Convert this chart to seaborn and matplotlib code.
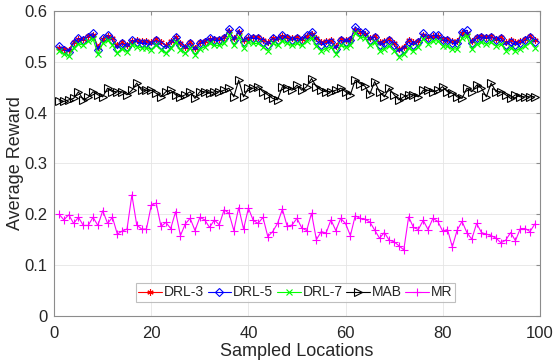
import numpy as np
import matplotlib
matplotlib.use("Agg")
import matplotlib.pyplot as plt
import seaborn as sns

locations = list(range(1, 100))

drl5 = [0.531, 0.523, 0.520, 0.536, 0.546, 0.542, 0.549, 0.556, 0.523, 0.546,
        0.552, 0.542, 0.526, 0.536, 0.529, 0.542, 0.539, 0.536, 0.536, 0.533,
        0.542, 0.533, 0.526, 0.536, 0.549, 0.533, 0.526, 0.536, 0.523, 0.536,
        0.539, 0.546, 0.542, 0.542, 0.546, 0.565, 0.542, 0.562, 0.539, 0.549,
        0.546, 0.546, 0.539, 0.533, 0.546, 0.542, 0.552, 0.546, 0.542, 0.546,
        0.542, 0.552, 0.559, 0.542, 0.533, 0.536, 0.539, 0.526, 0.542, 0.539,
        0.542, 0.569, 0.559, 0.559, 0.542, 0.549, 0.533, 0.536, 0.542, 0.533,
        0.520, 0.526, 0.539, 0.533, 0.539, 0.556, 0.546, 0.552, 0.552, 0.542,
        0.542, 0.536, 0.536, 0.559, 0.562, 0.536, 0.546, 0.549, 0.546, 0.549,
        0.542, 0.546, 0.533, 0.539, 0.533, 0.536, 0.542, 0.549, 0.539]

drl3 = [0.528, 0.526, 0.524, 0.538, 0.544, 0.545, 0.550, 0.553, 0.530, 0.544,
        0.550, 0.546, 0.532, 0.538, 0.533, 0.540, 0.542, 0.540, 0.541, 0.538,
        0.545, 0.538, 0.532, 0.540, 0.548, 0.537, 0.530, 0.539, 0.528, 0.538,
        0.541, 0.545, 0.545, 0.544, 0.548, 0.560, 0.546, 0.558, 0.542, 0.547,
        0.549, 0.548, 0.543, 0.538, 0.547, 0.546, 0.550, 0.549, 0.546, 0.548,
        0.545, 0.550, 0.555, 0.546, 0.538, 0.540, 0.542, 0.531, 0.545, 0.543,
        0.545, 0.563, 0.558, 0.555, 0.546, 0.550, 0.538, 0.540, 0.545, 0.537,
        0.525, 0.530, 0.542, 0.538, 0.541, 0.553, 0.548, 0.551, 0.550, 0.545,
        0.545, 0.540, 0.541, 0.556, 0.557, 0.541, 0.548, 0.550, 0.549, 0.550,
        0.545, 0.548, 0.538, 0.542, 0.538, 0.540, 0.545, 0.550, 0.542]

drl7 = [0.522, 0.515, 0.512, 0.527, 0.535, 0.533, 0.540, 0.545, 0.515, 0.536,
        0.542, 0.533, 0.518, 0.526, 0.520, 0.532, 0.530, 0.527, 0.527, 0.524,
        0.532, 0.524, 0.517, 0.527, 0.538, 0.524, 0.517, 0.527, 0.514, 0.526,
        0.529, 0.536, 0.532, 0.532, 0.536, 0.552, 0.532, 0.549, 0.528, 0.538,
        0.536, 0.536, 0.529, 0.522, 0.536, 0.532, 0.541, 0.536, 0.532, 0.536,
        0.532, 0.541, 0.547, 0.531, 0.522, 0.526, 0.529, 0.516, 0.532, 0.529,
        0.532, 0.556, 0.548, 0.547, 0.532, 0.538, 0.522, 0.526, 0.531, 0.522,
        0.510, 0.515, 0.528, 0.522, 0.529, 0.545, 0.535, 0.541, 0.541, 0.531,
        0.531, 0.525, 0.525, 0.547, 0.550, 0.525, 0.535, 0.538, 0.535, 0.538,
        0.531, 0.535, 0.522, 0.528, 0.522, 0.525, 0.531, 0.538, 0.528]

mab = [0.423, 0.422, 0.425, 0.428, 0.441, 0.425, 0.430, 0.441, 0.435, 0.431,
       0.448, 0.441, 0.441, 0.441, 0.435, 0.444, 0.458, 0.444, 0.444, 0.444,
       0.438, 0.431, 0.441, 0.444, 0.435, 0.431, 0.435, 0.441, 0.428, 0.441,
       0.441, 0.438, 0.441, 0.441, 0.444, 0.448, 0.431, 0.464, 0.431, 0.448,
       0.448, 0.451, 0.441, 0.435, 0.428, 0.425, 0.451, 0.448, 0.444, 0.454,
       0.444, 0.451, 0.467, 0.451, 0.444, 0.441, 0.441, 0.444, 0.448, 0.441,
       0.435, 0.464, 0.457, 0.452, 0.436, 0.461, 0.441, 0.431, 0.448, 0.435,
       0.425, 0.431, 0.435, 0.435, 0.431, 0.444, 0.444, 0.441, 0.444, 0.451,
       0.441, 0.438, 0.431, 0.428, 0.448, 0.441, 0.454, 0.448, 0.431, 0.458,
       0.441, 0.441, 0.435, 0.428, 0.435, 0.431, 0.431, 0.431, 0.431]

mr = [0.200, 0.189, 0.199, 0.182, 0.194, 0.178, 0.178, 0.194, 0.178, 0.207,
      0.182, 0.194, 0.161, 0.167, 0.171, 0.238, 0.179, 0.171, 0.171, 0.218,
      0.222, 0.176, 0.184, 0.172, 0.205, 0.158, 0.181, 0.192, 0.168, 0.194,
      0.189, 0.174, 0.189, 0.179, 0.209, 0.202, 0.168, 0.213, 0.171, 0.212,
      0.188, 0.182, 0.194, 0.156, 0.166, 0.182, 0.210, 0.176, 0.179, 0.192,
      0.173, 0.168, 0.202, 0.150, 0.166, 0.163, 0.189, 0.168, 0.192, 0.182,
      0.158, 0.197, 0.192, 0.190, 0.185, 0.169, 0.153, 0.164, 0.149, 0.146,
      0.138, 0.130, 0.195, 0.174, 0.170, 0.188, 0.170, 0.192, 0.186, 0.167,
      0.170, 0.136, 0.169, 0.186, 0.164, 0.151, 0.182, 0.164, 0.161, 0.158,
      0.153, 0.144, 0.149, 0.164, 0.148, 0.172, 0.172, 0.166, 0.181]

series_names = ['DRL-3', 'DRL-5', 'DRL-7', 'MAB', 'MR']
x_ticks = [0, 20, 40, 60, 80, 100]
y_ticks = [0, 0.1, 0.2, 0.3, 0.4, 0.5, 0.6]
y_tick_labels = ['0', '0.1', '0.2', '0.3', '0.4', '0.5', '0.6']

sns.set_style('white')
plt.rcParams['font.family'] = ['Liberation Sans', 'DejaVu Sans']

fig = plt.figure(figsize=(5.53, 3.64), dpi=100)
ax = fig.add_axes([0.098, 0.132, 0.878, 0.838])

estilos = [
    dict(color=(1, 0, 0), marker=(6, 2, 0), markersize=4.5, mfc=(1, 0, 0)),
    dict(color=(0, 0, 1), marker='D', markersize=4.2, mfc='none'),
    dict(color=(0, 1, 0), marker='x', markersize=3.8, mfc=(0, 1, 0)),
    dict(color=(0, 0, 0), marker='>', markersize=5.5, mfc='none'),
    dict(color=(1, 0, 1), marker='+', markersize=5.5, mfc=(1, 0, 1)),
]

for nome, valores, est in zip(series_names, [drl3, drl5, drl7, mab, mr], estilos):
    sns.lineplot(x=locations, y=valores, ax=ax, label=nome,
                 color=est['color'], marker=est['marker'],
                 markersize=est['markersize'], markerfacecolor=est['mfc'],
                 markeredgecolor=est['color'], markeredgewidth=0.8,
                 linewidth=0.8, estimator=None, sort=False)

ax.set_xlim(0, 100)
ax.set_ylim(0, 0.6)
ax.set_xticks(x_ticks)
ax.set_yticks(y_ticks)
ax.set_yticklabels(y_tick_labels)
ax.grid(True, color='#e5e5e5', linewidth=0.6)
ax.set_axisbelow(True)
for s in ax.spines.values():
    s.set_color('#8c8c8c')
    s.set_linewidth(0.8)
ax.tick_params(direction='in', length=3, color='#8c8c8c', labelsize=12,
               labelcolor='#262626', top=True, right=True)
ax.tick_params(axis='x', pad=7)
ax.tick_params(axis='y', pad=5)
ax.set_xlabel('Sampled Locations', fontsize=13, color='#262626', labelpad=2)
ax.set_ylabel('Average Reward', fontsize=13, color='#262626')
ax.yaxis.set_label_coords(-0.062, 0.5)

leg = ax.legend(loc='lower center', bbox_to_anchor=(0.497, 0.045), ncol=5,
                fontsize=10, frameon=True, fancybox=False, handlelength=1.7,
                handletextpad=0.15, columnspacing=0.25, borderpad=0.2,
                borderaxespad=0)
leg.get_frame().set_edgecolor('#b0b0b0')
leg.get_frame().set_linewidth(0.8)

plt.savefig('out.png', dpi=100)
